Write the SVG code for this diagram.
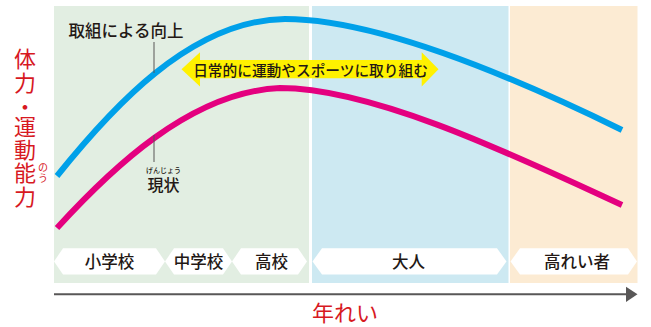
<svg xmlns="http://www.w3.org/2000/svg" width="651" height="327" viewBox="0 0 651 327">
<style>
text{font-family:"Noto Sans CJK JP","Noto Sans",sans-serif;}
.dark{fill:#231815;font-weight:500;}
.red{fill:#d7191f;}
.box{fill:#ffffff;}
.lead{stroke:#595757;stroke-width:1;fill:none;}
.curve{fill:none;stroke-width:6;stroke-linecap:butt;}
.lbl{font-size:16.5px;text-anchor:middle;}
</style>
<rect width="651" height="327" fill="#ffffff"/>
<g id="panels">
<rect x="54" y="6" width="255" height="277" fill="#e2eee2"/>
<rect x="312" y="6" width="196.5" height="277" fill="#cde9f2"/>
<rect x="510" y="6" width="127.5" height="277" fill="#fcebd3"/>
</g>
<g id="axis">
<line x1="54" y1="294.3" x2="627" y2="294.3" stroke="#595757" stroke-width="2"/>
<polygon points="626,286.7 637.5,294.3 626,302" fill="#595757"/>
<text x="345" y="321" font-size="22" text-anchor="middle" class="red">年れい</text>
</g>
<g id="y-label" class="red" font-size="22" text-anchor="middle">
<text x="25" y="66.5">体</text>
<text x="25" y="90.5">力</text>
<text x="25" y="115">・</text>
<text x="25" y="135">運</text>
<text x="25" y="157.5">動</text>
<text x="25" y="181">能</text>
<text x="25" y="204.5">力</text>
<text x="43" y="171" font-size="10">の</text>
<text x="43" y="181.5" font-size="10">う</text>
</g>
<g id="connectors">
<path class="curve" stroke="#00a0e9" d="M57,176 C110,110 190,20 285,19 C380,19 520,80 622,130"/>
<path class="curve" stroke="#e4007f" d="M57,228 C110,170 190,92 280,88 C375,88 520,158 622,205"/>
<line class="lead" x1="154" y1="42" x2="154" y2="73"/>
<line class="lead" x1="154" y1="135" x2="154" y2="162"/>
</g>
<g id="label-improved">
<text x="126" y="37" font-size="16.5" text-anchor="middle" class="dark">取組による向上</text>
</g>
<g id="label-current">
<text x="163.5" y="172.5" font-size="7" text-anchor="middle" class="dark">げんじょう</text>
<text x="163.5" y="190.5" font-size="16" text-anchor="middle" class="dark" font-weight="700">現状</text>
</g>
<g id="daily-exercise">
<path fill="#fff100" d="M181.5,69.3 L200,52.3 L200,60 L421.7,60 L421.7,52.3 L438.5,69.3 L421.7,86.5 L421.7,78.3 L200,78.3 L200,86.5 Z"/>
<text x="310.5" y="75.8" font-size="14.7" text-anchor="middle" class="dark">日常的に運動やスポーツに取り組む</text>
</g>
<g id="stage-elementary">
<path class="box" d="M54,261.4 L63,248.3 L156,248.3 L165,261.4 L156,274.5 L63,274.5 Z"/>
<text x="109.5" y="268" class="dark lbl">小学校</text>
</g>
<g id="stage-junior-high">
<path class="box" d="M165,261.4 L174,248.3 L223,248.3 L232,261.4 L223,274.5 L174,274.5 Z"/>
<text x="198.5" y="268" class="dark lbl">中学校</text>
</g>
<g id="stage-high">
<path class="box" d="M232,261.4 L241,248.3 L298,248.3 L307,261.4 L298,274.5 L241,274.5 Z"/>
<text x="271.5" y="268" class="dark lbl">高校</text>
</g>
<g id="stage-adult">
<path class="box" d="M312.5,261.4 L322,248.3 L497,248.3 L506.5,261.4 L497,274.5 L322,274.5 Z"/>
<text x="408.5" y="268" class="dark lbl">大人</text>
</g>
<g id="stage-elderly">
<path class="box" d="M510.5,261.4 L520,248.3 L628,248.3 L637,261.4 L628,274.5 L520,274.5 Z"/>
<text x="577" y="268" class="dark lbl">高れい者</text>
</g>
</svg>
